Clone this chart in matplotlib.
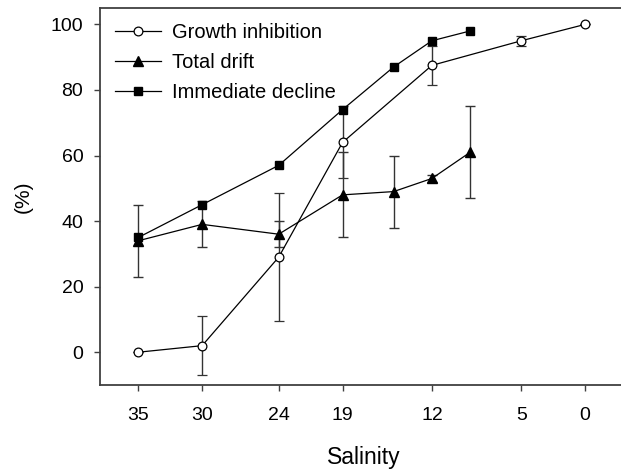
import matplotlib
matplotlib.use("Agg")
import matplotlib.pyplot as plt
from matplotlib.lines import Line2D

plt.rcParams['font.family'] = ['Liberation Sans', 'DejaVu Sans']

# ---------- data ----------
gi_sal = [35, 30, 24, 19, 12, 5, 0]
gi_val = [0, 2, 29, 64, 87.5, 95, 100]
gi_err = [0, 9, 19.5, 11, 6, 1.5, 0]

td_sal = [35, 30, 24, 19, 15, 12, 9]
td_val = [34, 39, 36, 48, 49, 53, 61]
td_err = [11, 7, 4, 13, 11, 1, 14]

id_sal = [35, 30, 24, 19, 15, 12, 9]
id_val = [35, 45, 57, 74, 87, 95, 98]

xticks = [35, 30, 24, 19, 12, 5, 0]
yticks = [0, 20, 40, 60, 80, 100]

# ---------- plot ----------
fig = plt.figure(figsize=(6.21, 4.71), dpi=100)
ax = fig.add_axes([100 / 621, 86 / 471, 1 - 100 / 621 + 0.01, 377 / 471])

ebkw = dict(ecolor='#333333', elinewidth=1.0, capsize=3.4, capthick=1.0)

gi_style = dict(color='black', lw=0.9, marker='o', ms=6.3, mfc='white', mec='black', mew=0.9)
td_style = dict(color='black', lw=0.9, marker='^', ms=6.8, mfc='black', mec='black')
id_style = dict(color='black', lw=0.9, marker='s', ms=5.8, mfc='black', mec='black')

ax.errorbar(gi_sal, gi_val, yerr=gi_err, zorder=3, **gi_style, **ebkw)
ax.errorbar(td_sal, td_val, yerr=td_err, zorder=3, **td_style, **ebkw)
ax.plot(id_sal, id_val, zorder=4, **id_style)

ax.set_xlim(38, -3.3)
ax.set_ylim(-10, 105)
ax.set_xticks(xticks)
ax.set_xticklabels([str(v) for v in xticks])
ax.set_yticks(yticks)

for s in ['left', 'bottom', 'top']:
    ax.spines[s].set_color('#404040')
    ax.spines[s].set_linewidth(1.3)
ax.spines['right'].set_visible(False)

ax.tick_params(direction='out', length=4, width=1, color='#404040', labelsize=14)
ax.tick_params(axis='x', pad=12)
ax.tick_params(axis='y', pad=8)

ax.set_xlabel('Salinity', fontsize=16.5, labelpad=16)
ax.set_ylabel('(%)', fontsize=15, labelpad=13)

handles = [Line2D([], [], **gi_style), Line2D([], [], **td_style), Line2D([], [], **id_style)]
labels = ['Growth inhibition', 'Total drift', 'Immediate decline']
ax.legend(handles, labels, loc='upper left', frameon=False, fontsize=14.5,
          handlelength=2.3, handletextpad=0.55, labelspacing=0.55,
          borderaxespad=0.35)

fig.savefig('out.png', dpi=100)
